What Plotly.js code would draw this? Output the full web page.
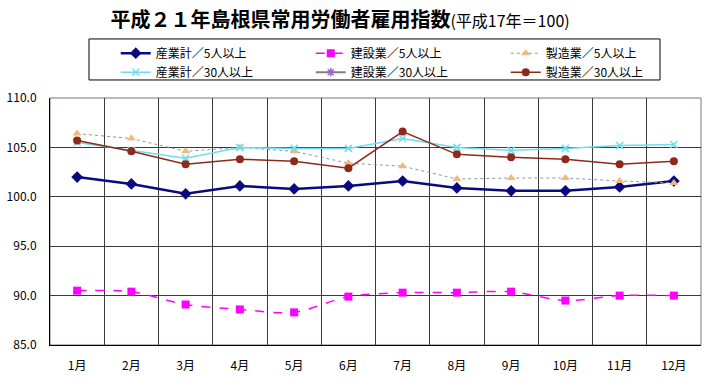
<!DOCTYPE html>
<html>
<head>
<meta charset="utf-8">
<script src="https://cdn.plot.ly/plotly-3.0.1.min.js"></script>
<style>html,body{margin:0;padding:0;background:#fff;}#chart{width:707px;height:379px;}</style>
</head>
<body>
<div id="chart"></div>
<script>
const months = ['1月','2月','3月','4月','5月','6月','7月','8月','9月','10月','11月','12月'];
const sangyo5   = [102.0,101.3,100.3,101.1,100.8,101.1,101.6,100.9,100.6,100.6,101.0,101.6];
const kensetsu5 = [90.5,90.4,89.1,88.6,88.3,89.9,90.3,90.3,90.4,89.5,90.0,90.0];
const seizo5    = [106.4,105.9,104.6,105.0,104.6,103.4,103.1,101.8,101.9,101.9,101.6,101.4];
const sangyo30  = [105.5,104.7,103.9,105.0,104.9,104.9,105.9,105.0,104.7,104.9,105.2,105.3];
const kensetsu30 = [null,null,null,null,null,null,null,null,null,null,null,null];
const seizo30   = [105.7,104.6,103.3,103.8,103.6,102.9,106.6,104.3,104.0,103.8,103.3,103.6];
const yTicks = [85,90,95,100,105,110];

const F = '"Noto Sans CJK JP", "Noto Sans", sans-serif';
const traces = [
  {name:'産業計／5人以上', x:months, y:sangyo5, mode:'lines+markers',
   line:{color:'#0a0a80', width:2.5}, marker:{symbol:'diamond', size:9, color:'#0a0a80'}},
  {name:'建設業／5人以上', x:months, y:kensetsu5, mode:'lines+markers',
   line:{color:'#ff00ff', width:1.5, dash:'dash', shape:'spline', smoothing:0.8}, marker:{symbol:'square', size:8, color:'#ff00ff'}},
  {name:'製造業／5人以上', x:months, y:seizo5, mode:'lines+markers',
   line:{color:'#8a9a9a', width:1, dash:'dot'}, marker:{symbol:'triangle-up', size:8, color:'#f0b87c'}},
  {name:'産業計／30人以上', x:months, y:sangyo30, mode:'lines+markers',
   line:{color:'#6fdcec', width:1.5}, marker:{symbol:'x-thin-open', size:7, color:'#6fdcec', line:{color:'#6fdcec', width:1.5}}},
  {name:'建設業／30人以上', x:months, y:kensetsu30, mode:'lines+markers',
   line:{color:'#808080', width:2}, marker:{symbol:'asterisk-open', size:7, color:'#9966cc', line:{color:'#9966cc', width:1.5}}},
  {name:'製造業／30人以上', x:months, y:seizo30, mode:'lines+markers',
   line:{color:'#8e2a1c', width:1.5}, marker:{symbol:'circle', size:8, color:'#8e2a1c'}}
];

const layout = {
  width:707, height:379,
  margin:{l:50, r:6, t:98, b:34},
  paper_bgcolor:'#ffffff', plot_bgcolor:'#ffffff',
  font:{family:F, size:12, color:'#000'},
  showlegend:true,
  title:{text:'<b>平成２１年島根県常用労働者雇用指数</b><span style="font-size:16px">(平成17年＝100)</span>',
         font:{family:F, size:20, color:'#000'}, x:0.481, xanchor:'center', xref:'container', y:0.947, yanchor:'middle', yref:'container'},
  legend:{orientation:'h', x:0.101, xanchor:'left', y:1.24, yanchor:'top', yref:'paper',
          borderwidth:0, bgcolor:'rgba(0,0,0,0)', entrywidth:150, entrywidthmode:'pixels',
          font:{family:F, size:12}, tracegroupgap:0, traceorder:'normal'},
  xaxis:{type:'category', tickson:'boundaries', range:[-0.5,11.5], showgrid:true, gridcolor:'#3a3a3a', gridwidth:1,
         showline:true, linecolor:'#000', linewidth:1, ticks:'', ticklabelstandoff:10, zeroline:false,
         tickfont:{family:F, size:12}},
  yaxis:{range:[85,110], tickvals:yTicks, tickformat:'.1f', showgrid:true, gridcolor:'#3a3a3a', gridwidth:1,
         showline:true, linecolor:'#000', linewidth:1, ticks:'', ticklabelstandoff:10, zeroline:false,
         tickfont:{family:F, size:12}},
  shapes:[
    {type:'rect', xref:'paper', yref:'paper', x0:0, x1:1, y0:0, y1:1, line:{color:'#6b7b7b', width:1}, layer:'below'},
    {type:'rect', xref:'paper', yref:'paper', x0:0.0599, x1:0.937, y0:1.073, y1:1.239, line:{color:'#000', width:1}, fillcolor:'rgba(0,0,0,0)', layer:'below'}
  ]
};

Plotly.newPlot('chart', traces, layout, {displayModeBar:false, staticPlot:true});
</script>
</body>
</html>
